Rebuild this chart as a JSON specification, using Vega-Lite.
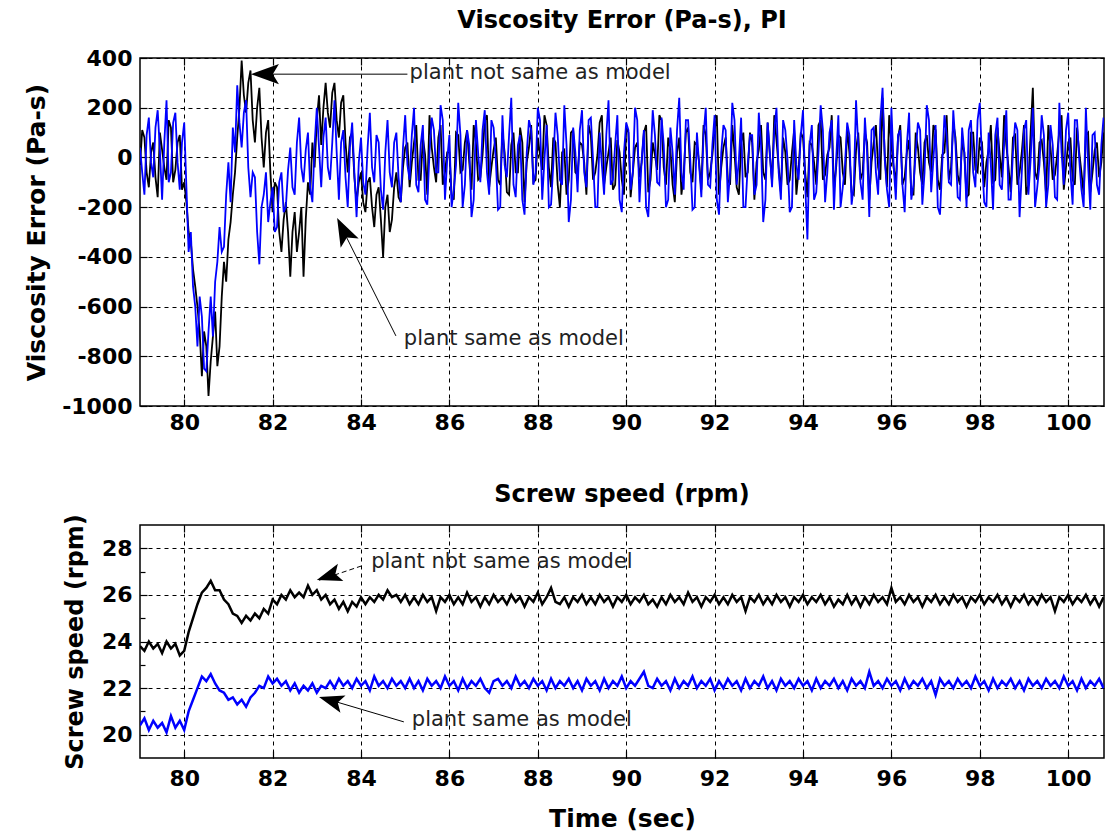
{
"$schema":"https://vega.github.io/schema/vega-lite/v6.json",
"background":"white",
"padding":{"left":23,"top":8,"right":0,"bottom":0},
"config":{
"font":"DejaVu Sans",
"view":{"stroke":"#000","strokeWidth":1.5},
"axis":{"domain":false,"grid":true,"gridColor":"#000","gridDash":[4,4],"gridOpacity":1,"gridWidth":1,"tickColor":"#000","tickSize":-7,"tickWidth":1.2,"labelPadding":17,"labelFont":"DejaVu Sans","labelFontSize":22,"labelFontWeight":"bold","labelColor":"#000","labelFlush":false,"labelOverlap":false,"titleFont":"DejaVu Sans","titleFontSize":25,"titleFontWeight":"bold","titleColor":"#000"},
"title":{"font":"DejaVu Sans","fontSize":24,"fontWeight":"bold","color":"#000"},
"concat":{"spacing":47}
},
"datasets":{
"v":[
{"t":79.0,"k":-30,"b":40},{"t":79.05,"k":110,"b":-60},{"t":79.1,"k":80,"b":-150},{"t":79.15,"k":-60,"b":90},{"t":79.2,"k":-120,"b":160},{"t":79.25,"k":20,"b":-20},{"t":79.3,"k":60,"b":-80},{"t":79.35,"k":-80,"b":120},{"t":79.4,"k":-160,"b":190},{"t":79.45,"k":100,"b":30},
{"t":79.5,"k":30,"b":-170},{"t":79.55,"k":-40,"b":60},{"t":79.6,"k":-90,"b":230},{"t":79.65,"k":150,"b":-100},{"t":79.7,"k":120,"b":-60},{"t":79.75,"k":-100,"b":140},{"t":79.8,"k":-50,"b":180},{"t":79.85,"k":60,"b":-20},{"t":79.9,"k":90,"b":-130},{"t":79.95,"k":-130,"b":60},
{"t":80.0,"k":-100,"b":140},{"t":80.05,"k":-180,"b":-120},{"t":80.1,"k":-300,"b":-380},{"t":80.15,"k":-340,"b":-300},{"t":80.2,"k":-450,"b":-520},{"t":80.25,"k":-520,"b":-600},{"t":80.3,"k":-600,"b":-760},{"t":80.35,"k":-700,"b":-560},{"t":80.4,"k":-880,"b":-640},{"t":80.45,"k":-700,"b":-850},
{"t":80.5,"k":-760,"b":-860},{"t":80.55,"k":-960,"b":-700},{"t":80.6,"k":-820,"b":-560},{"t":80.65,"k":-720,"b":-720},{"t":80.7,"k":-620,"b":-500},{"t":80.75,"k":-840,"b":-420},{"t":80.8,"k":-760,"b":-280},{"t":80.85,"k":-560,"b":-380},{"t":80.9,"k":-420,"b":-360},{"t":80.95,"k":-500,"b":-150},
{"t":81.0,"k":-330,"b":-20},{"t":81.05,"k":-260,"b":-180},{"t":81.1,"k":-150,"b":120},{"t":81.15,"k":-60,"b":20},{"t":81.2,"k":80,"b":290},{"t":81.25,"k":200,"b":140},{"t":81.3,"k":390,"b":40},{"t":81.35,"k":250,"b":180},{"t":81.4,"k":180,"b":230},{"t":81.45,"k":300,"b":-40},
{"t":81.5,"k":350,"b":-160},{"t":81.55,"k":150,"b":-60},{"t":81.6,"k":60,"b":-80},{"t":81.65,"k":200,"b":-300},{"t":81.7,"k":280,"b":-430},{"t":81.75,"k":80,"b":-200},{"t":81.8,"k":-40,"b":-150},{"t":81.85,"k":100,"b":-60},{"t":81.9,"k":150,"b":-260},{"t":81.95,"k":-60,"b":-180},
{"t":82.0,"k":-220,"b":-120},{"t":82.05,"k":-100,"b":-300},{"t":82.1,"k":-120,"b":-280},{"t":82.15,"k":-300,"b":-100},{"t":82.2,"k":-380,"b":-60},{"t":82.25,"k":-250,"b":-220},{"t":82.3,"k":-180,"b":-200},{"t":82.35,"k":-300,"b":-50},{"t":82.4,"k":-480,"b":40},{"t":82.45,"k":-300,"b":-120},
{"t":82.5,"k":-220,"b":-150},{"t":82.55,"k":-380,"b":60},{"t":82.6,"k":-300,"b":160},{"t":82.65,"k":-200,"b":-40},{"t":82.7,"k":-480,"b":-100},{"t":82.75,"k":-250,"b":30},{"t":82.8,"k":-100,"b":100},{"t":82.85,"k":-150,"b":-120},{"t":82.9,"k":60,"b":-180},{"t":82.95,"k":-40,"b":50},
{"t":83.0,"k":150,"b":200},{"t":83.05,"k":250,"b":40},{"t":83.1,"k":50,"b":-120},{"t":83.15,"k":200,"b":80},{"t":83.2,"k":300,"b":160},{"t":83.25,"k":180,"b":-40},{"t":83.3,"k":120,"b":-90},{"t":83.35,"k":260,"b":60},{"t":83.4,"k":300,"b":230},{"t":83.45,"k":150,"b":20},
{"t":83.5,"k":80,"b":-170},{"t":83.55,"k":220,"b":60},{"t":83.6,"k":250,"b":110},{"t":83.65,"k":60,"b":-80},{"t":83.7,"k":-60,"b":-200},{"t":83.75,"k":80,"b":40},{"t":83.8,"k":100,"b":140},{"t":83.85,"k":-80,"b":-60},{"t":83.9,"k":-180,"b":-240},{"t":83.95,"k":-100,"b":-20},
{"t":84.0,"k":-60,"b":80},{"t":84.05,"k":-180,"b":-100},{"t":84.1,"k":-220,"b":-150},{"t":84.15,"k":-100,"b":40},{"t":84.2,"k":-80,"b":180},{"t":84.25,"k":-200,"b":-40},{"t":84.3,"k":-280,"b":-100},{"t":84.35,"k":-150,"b":90},{"t":84.4,"k":-120,"b":60},{"t":84.45,"k":-250,"b":-130},
{"t":84.5,"k":-400,"b":-210},{"t":84.55,"k":-200,"b":20},{"t":84.6,"k":-150,"b":150},{"t":84.65,"k":-300,"b":-60},{"t":84.7,"k":-250,"b":-120},{"t":84.75,"k":-120,"b":60},{"t":84.8,"k":-60,"b":100},{"t":84.85,"k":-160,"b":-80},{"t":84.9,"k":-180,"b":-180},{"t":84.95,"k":-40,"b":40},
{"t":85.0,"k":40,"b":170},{"t":85.05,"k":60,"b":-30},{"t":85.1,"k":-120,"b":-90},{"t":85.15,"k":-20,"b":90},{"t":85.2,"k":60,"b":200},{"t":85.25,"k":130,"b":-110},{"t":85.3,"k":-90,"b":-140},{"t":85.35,"k":-90,"b":50},{"t":85.4,"k":80,"b":130},{"t":85.45,"k":10,"b":-170},
{"t":85.5,"k":-150,"b":-190},{"t":85.55,"k":170,"b":20},{"t":85.6,"k":40,"b":160},{"t":85.65,"k":-40,"b":110},{"t":85.7,"k":-100,"b":-60},{"t":85.75,"k":80,"b":-60},{"t":85.8,"k":130,"b":210},{"t":85.85,"k":-110,"b":150},{"t":85.9,"k":-60,"b":-170},{"t":85.95,"k":20,"b":-10},
{"t":86.0,"k":20,"b":90},{"t":86.05,"k":-150,"b":-200},{"t":86.1,"k":-170,"b":-130},{"t":86.15,"k":100,"b":-30},{"t":86.2,"k":90,"b":220},{"t":86.25,"k":-60,"b":90},{"t":86.3,"k":-50,"b":-200},{"t":86.35,"k":60,"b":-110},{"t":86.4,"k":110,"b":110},{"t":86.45,"k":-20,"b":50},
{"t":86.5,"k":-130,"b":-240},{"t":86.55,"k":130,"b":-170},{"t":86.6,"k":60,"b":150},{"t":86.65,"k":-90,"b":20},{"t":86.7,"k":-80,"b":-100},{"t":86.75,"k":10,"b":110},{"t":86.8,"k":150,"b":190},{"t":86.85,"k":170,"b":-60},{"t":86.9,"k":-120,"b":-150},{"t":86.95,"k":-40,"b":150},
{"t":87.0,"k":30,"b":120},{"t":87.05,"k":80,"b":-10},{"t":87.1,"k":-90,"b":-210},{"t":87.15,"k":-110,"b":-200},{"t":87.2,"k":100,"b":170},{"t":87.25,"k":20,"b":-30},{"t":87.3,"k":-140,"b":-80},{"t":87.35,"k":-150,"b":90},{"t":87.4,"k":50,"b":240},{"t":87.45,"k":100,"b":-110},
{"t":87.5,"k":-60,"b":-160},{"t":87.55,"k":-60,"b":50},{"t":87.6,"k":120,"b":90},{"t":87.65,"k":60,"b":-170},{"t":87.7,"k":-180,"b":-230},{"t":87.75,"k":-20,"b":20},{"t":87.8,"k":40,"b":150},{"t":87.85,"k":130,"b":110},{"t":87.9,"k":-100,"b":-110},{"t":87.95,"k":-90,"b":-60},
{"t":88.0,"k":80,"b":200},{"t":88.05,"k":10,"b":150},{"t":88.1,"k":-50,"b":-170},{"t":88.15,"k":170,"b":-10},{"t":88.2,"k":130,"b":130},{"t":88.25,"k":-40,"b":-200},{"t":88.3,"k":-120,"b":-190},{"t":88.35,"k":80,"b":-30},{"t":88.4,"k":60,"b":180},{"t":88.45,"k":-110,"b":90},
{"t":88.5,"k":-200,"b":-90},{"t":88.55,"k":20,"b":-110},{"t":88.6,"k":30,"b":210},{"t":88.65,"k":-150,"b":50},{"t":88.7,"k":-90,"b":-260},{"t":88.75,"k":100,"b":-170},{"t":88.8,"k":110,"b":120},{"t":88.85,"k":-60,"b":20},{"t":88.9,"k":-70,"b":-140},{"t":88.95,"k":60,"b":110},
{"t":89.0,"k":50,"b":190},{"t":89.05,"k":-20,"b":-60},{"t":89.1,"k":-150,"b":-120},{"t":89.15,"k":130,"b":150},{"t":89.2,"k":90,"b":160},{"t":89.25,"k":-90,"b":-10},{"t":89.3,"k":-60,"b":-200},{"t":89.35,"k":10,"b":-200},{"t":89.4,"k":140,"b":100},{"t":89.45,"k":170,"b":-30},
{"t":89.5,"k":-110,"b":-150},{"t":89.55,"k":-40,"b":90},{"t":89.6,"k":20,"b":230},{"t":89.65,"k":80,"b":-110},{"t":89.7,"k":-130,"b":-90},{"t":89.75,"k":-110,"b":50},{"t":89.8,"k":70,"b":170},{"t":89.85,"k":20,"b":-170},{"t":89.9,"k":-90,"b":-220},{"t":89.95,"k":-150,"b":20},
{"t":90.0,"k":120,"b":140},{"t":90.05,"k":100,"b":110},{"t":90.1,"k":-160,"b":-130},{"t":90.15,"k":-60,"b":-60},{"t":90.2,"k":40,"b":200},{"t":90.25,"k":60,"b":150},{"t":90.3,"k":-80,"b":-180},{"t":90.35,"k":-20,"b":-10},{"t":90.4,"k":100,"b":110},{"t":90.45,"k":130,"b":-200},
{"t":90.5,"k":-140,"b":-240},{"t":90.55,"k":-90,"b":-30},{"t":90.6,"k":60,"b":190},{"t":90.65,"k":10,"b":90},{"t":90.7,"k":-50,"b":-100},{"t":90.75,"k":170,"b":-110},{"t":90.8,"k":150,"b":160},{"t":90.85,"k":-40,"b":50},{"t":90.9,"k":-110,"b":-200},{"t":90.95,"k":80,"b":-170},
{"t":91.0,"k":30,"b":120},{"t":91.05,"k":-110,"b":20},{"t":91.1,"k":-180,"b":-150},{"t":91.15,"k":20,"b":110},{"t":91.2,"k":80,"b":240},{"t":91.25,"k":-150,"b":-60},{"t":91.3,"k":-70,"b":-130},{"t":91.35,"k":100,"b":150},{"t":91.4,"k":120,"b":150},{"t":91.45,"k":-60,"b":-10},
{"t":91.5,"k":-100,"b":-210},{"t":91.55,"k":60,"b":-200},{"t":91.6,"k":50,"b":100},{"t":91.65,"k":-20,"b":-30},{"t":91.7,"k":-130,"b":-160},{"t":91.75,"k":130,"b":90},{"t":91.8,"k":90,"b":200},{"t":91.85,"k":-90,"b":-110},{"t":91.9,"k":-60,"b":-120},{"t":91.95,"k":10,"b":50},
{"t":92.0,"k":110,"b":170},{"t":92.05,"k":170,"b":-170},{"t":92.1,"k":-150,"b":-230},{"t":92.15,"k":-40,"b":20},{"t":92.2,"k":40,"b":130},{"t":92.25,"k":80,"b":110},{"t":92.3,"k":-90,"b":-180},{"t":92.35,"k":-110,"b":-60},{"t":92.4,"k":130,"b":220},{"t":92.45,"k":20,"b":150},
{"t":92.5,"k":-120,"b":-110},{"t":92.55,"k":-150,"b":-10},{"t":92.6,"k":60,"b":160},{"t":92.65,"k":100,"b":-200},{"t":92.7,"k":-80,"b":-200},{"t":92.75,"k":-60,"b":-30},{"t":92.8,"k":100,"b":90},{"t":92.85,"k":60,"b":90},{"t":92.9,"k":-170,"b":-150},{"t":92.95,"k":-20,"b":-110},
{"t":93.0,"k":30,"b":180},{"t":93.05,"k":130,"b":50},{"t":93.1,"k":-60,"b":-260},{"t":93.15,"k":-90,"b":-170},{"t":93.2,"k":140,"b":140},{"t":93.25,"k":10,"b":20},{"t":93.3,"k":-100,"b":-120},{"t":93.35,"k":170,"b":110},{"t":93.4,"k":70,"b":200},{"t":93.45,"k":-40,"b":-60},
{"t":93.5,"k":-140,"b":-170},{"t":93.55,"k":80,"b":150},{"t":93.6,"k":20,"b":110},{"t":93.65,"k":-110,"b":-10},{"t":93.7,"k":-90,"b":-220},{"t":93.75,"k":20,"b":-200},{"t":93.8,"k":110,"b":150},{"t":93.85,"k":-150,"b":-30},{"t":93.9,"k":-50,"b":-90},{"t":93.95,"k":100,"b":90},
{"t":94.0,"k":80,"b":190},{"t":94.05,"k":-60,"b":-110},{"t":94.1,"k":-160,"b":-330},{"t":94.15,"k":60,"b":50},{"t":94.2,"k":50,"b":130},{"t":94.25,"k":-20,"b":-170},{"t":94.3,"k":-110,"b":-140},{"t":94.35,"k":130,"b":20},{"t":94.4,"k":150,"b":210},{"t":94.45,"k":-90,"b":110},
{"t":94.5,"k":-70,"b":-180},{"t":94.55,"k":10,"b":-60},{"t":94.6,"k":40,"b":100},{"t":94.65,"k":170,"b":150},{"t":94.7,"k":-130,"b":-210},{"t":94.75,"k":-40,"b":-10},{"t":94.8,"k":90,"b":170},{"t":94.85,"k":80,"b":-200},{"t":94.9,"k":-60,"b":-120},{"t":94.95,"k":-110,"b":-30},
{"t":95.0,"k":120,"b":140},{"t":95.05,"k":20,"b":90},{"t":95.1,"k":-140,"b":-190},{"t":95.15,"k":-150,"b":-110},{"t":95.2,"k":30,"b":230},{"t":95.25,"k":100,"b":50},{"t":95.3,"k":-90,"b":-100},{"t":95.35,"k":-60,"b":-170},{"t":95.4,"k":100,"b":160},{"t":95.45,"k":60,"b":20},
{"t":95.5,"k":-170,"b":-240},{"t":95.55,"k":-20,"b":110},{"t":95.6,"k":60,"b":120},{"t":95.65,"k":130,"b":-60},{"t":95.7,"k":-40,"b":-150},{"t":95.75,"k":-90,"b":150},{"t":95.8,"k":240,"b":280},{"t":95.85,"k":10,"b":-10},{"t":95.9,"k":-120,"b":-130},{"t":95.95,"k":170,"b":-200},
{"t":96.0,"k":50,"b":200},{"t":96.05,"k":-40,"b":-30},{"t":96.1,"k":-100,"b":-170},{"t":96.15,"k":80,"b":90},{"t":96.2,"k":130,"b":110},{"t":96.25,"k":-110,"b":-110},{"t":96.3,"k":-80,"b":-220},{"t":96.35,"k":20,"b":50},{"t":96.4,"k":70,"b":180},{"t":96.45,"k":-150,"b":-170},
{"t":96.5,"k":-150,"b":-110},{"t":96.55,"k":100,"b":20},{"t":96.6,"k":40,"b":140},{"t":96.65,"k":-60,"b":110},{"t":96.7,"k":-110,"b":-190},{"t":96.75,"k":60,"b":-60},{"t":96.8,"k":90,"b":210},{"t":96.85,"k":-20,"b":150},{"t":96.9,"k":-60,"b":-140},{"t":96.95,"k":130,"b":-10},
{"t":97.0,"k":110,"b":130},{"t":97.05,"k":-90,"b":-200},{"t":97.1,"k":-130,"b":-230},{"t":97.15,"k":10,"b":-30},{"t":97.2,"k":20,"b":170},{"t":97.25,"k":170,"b":90},{"t":97.3,"k":-90,"b":-100},{"t":97.35,"k":-40,"b":-110},{"t":97.4,"k":140,"b":190},{"t":97.45,"k":80,"b":50},
{"t":97.5,"k":-70,"b":-160},{"t":97.55,"k":-110,"b":-170},{"t":97.6,"k":60,"b":120},{"t":97.65,"k":20,"b":20},{"t":97.7,"k":-160,"b":-200},{"t":97.75,"k":-150,"b":110},{"t":97.8,"k":100,"b":150},{"t":97.85,"k":100,"b":-60},{"t":97.9,"k":-50,"b":-120},{"t":97.95,"k":-60,"b":150},
{"t":98.0,"k":80,"b":220},{"t":98.05,"k":60,"b":-10},{"t":98.1,"k":-120,"b":-180},{"t":98.15,"k":-20,"b":-200},{"t":98.2,"k":30,"b":100},{"t":98.25,"k":130,"b":-30},{"t":98.3,"k":-100,"b":-210},{"t":98.35,"k":-90,"b":90},{"t":98.4,"k":120,"b":160},{"t":98.45,"k":10,"b":-110},
{"t":98.5,"k":-80,"b":-130},{"t":98.55,"k":170,"b":50},{"t":98.6,"k":50,"b":190},{"t":98.65,"k":-40,"b":-170},{"t":98.7,"k":-140,"b":-170},{"t":98.75,"k":80,"b":20},{"t":98.8,"k":90,"b":140},{"t":98.85,"k":-110,"b":110},{"t":98.9,"k":-60,"b":-240},{"t":98.95,"k":20,"b":-60},
{"t":99.0,"k":130,"b":110},{"t":99.05,"k":-150,"b":150},{"t":99.1,"k":-110,"b":-150},{"t":99.15,"k":100,"b":-10},{"t":99.2,"k":280,"b":200},{"t":99.25,"k":-60,"b":-200},{"t":99.3,"k":-90,"b":-120},{"t":99.35,"k":60,"b":-30},{"t":99.4,"k":70,"b":170},{"t":99.45,"k":-20,"b":90},
{"t":99.5,"k":-150,"b":-200},{"t":99.55,"k":130,"b":-110},{"t":99.6,"k":40,"b":130},{"t":99.65,"k":-90,"b":50},{"t":99.7,"k":-70,"b":-160},{"t":99.75,"k":10,"b":-170},{"t":99.8,"k":110,"b":220},{"t":99.85,"k":170,"b":20},{"t":99.9,"k":-130,"b":-110},{"t":99.95,"k":-40,"b":110},
{"t":100.0,"k":60,"b":180},{"t":100.05,"k":80,"b":-60},{"t":100.1,"k":-90,"b":-190},{"t":100.15,"k":-110,"b":150},{"t":100.2,"k":120,"b":150},{"t":100.25,"k":20,"b":-10},{"t":100.3,"k":-60,"b":-130},{"t":100.35,"k":-150,"b":-200},{"t":100.4,"k":90,"b":200},{"t":100.45,"k":100,"b":-30},
{"t":100.5,"k":-140,"b":-210},{"t":100.55,"k":-60,"b":90},{"t":100.6,"k":30,"b":100},{"t":100.65,"k":60,"b":-110},{"t":100.7,"k":-80,"b":-150},{"t":100.75,"k":-20,"b":50},{"t":100.8,"k":100,"b":160}
],
"s":[
{"t":79.0,"k":23.8,"b":20.4},{"t":79.1,"k":23.6,"b":20.7},{"t":79.2,"k":24.0,"b":20.2},{"t":79.3,"k":23.7,"b":20.6},{"t":79.4,"k":23.9,"b":20.3},{"t":79.5,"k":23.5,"b":20.5},{"t":79.6,"k":24.0,"b":20.1},{"t":79.7,"k":23.7,"b":20.8},{"t":79.8,"k":23.9,"b":20.3},{"t":79.9,"k":23.4,"b":20.6},
{"t":80.0,"k":23.6,"b":20.2},{"t":80.1,"k":24.4,"b":21.0},{"t":80.2,"k":25.0,"b":21.5},{"t":80.3,"k":25.6,"b":22.0},{"t":80.4,"k":26.1,"b":22.5},{"t":80.5,"k":26.3,"b":22.3},{"t":80.6,"k":26.6,"b":22.6},{"t":80.7,"k":26.2,"b":22.2},{"t":80.8,"k":26.2,"b":21.9},{"t":80.9,"k":25.8,"b":21.8},
{"t":81.0,"k":25.6,"b":21.5},{"t":81.1,"k":25.2,"b":21.6},{"t":81.2,"k":25.1,"b":21.3},{"t":81.3,"k":24.8,"b":21.5},{"t":81.4,"k":25.1,"b":21.2},{"t":81.5,"k":24.9,"b":21.6},{"t":81.6,"k":25.2,"b":21.8},{"t":81.7,"k":25.0,"b":22.1},{"t":81.8,"k":25.4,"b":22.0},{"t":81.9,"k":25.2,"b":22.5},
{"t":82.0,"k":25.8,"b":22.2},{"t":82.1,"k":25.6,"b":22.4},{"t":82.2,"k":26.0,"b":22.1},{"t":82.3,"k":25.8,"b":22.3},{"t":82.4,"k":26.2,"b":21.9},{"t":82.5,"k":25.9,"b":22.2},{"t":82.6,"k":26.1,"b":21.8},{"t":82.7,"k":25.9,"b":22.1},{"t":82.8,"k":26.4,"b":21.9},{"t":82.9,"k":26.0,"b":22.2},
{"t":83.0,"k":26.2,"b":21.8},{"t":83.1,"k":25.8,"b":22.1},{"t":83.2,"k":26.0,"b":22.0},{"t":83.3,"k":25.6,"b":22.3},{"t":83.4,"k":25.8,"b":22.0},{"t":83.5,"k":25.4,"b":22.4},{"t":83.6,"k":25.7,"b":22.1},{"t":83.7,"k":25.3,"b":22.3},{"t":83.8,"k":25.7,"b":22.0},{"t":83.9,"k":25.5,"b":22.4},
{"t":84.0,"k":25.9,"b":22.1},{"t":84.1,"k":25.6,"b":22.3},{"t":84.2,"k":25.9,"b":21.9},{"t":84.3,"k":25.7,"b":22.5},{"t":84.4,"k":26.0,"b":22.1},{"t":84.5,"k":25.8,"b":22.3},{"t":84.6,"k":26.2,"b":22.0},{"t":84.7,"k":25.9,"b":22.4},{"t":84.8,"k":26.0,"b":22.1},{"t":84.9,"k":25.7,"b":22.3},
{"t":85.0,"k":26.0,"b":22.0},{"t":85.1,"k":25.6,"b":22.4},{"t":85.2,"k":25.9,"b":22.0},{"t":85.3,"k":25.6,"b":22.3},{"t":85.4,"k":26.0,"b":21.9},{"t":85.5,"k":25.7,"b":22.4},{"t":85.6,"k":25.9,"b":22.1},{"t":85.7,"k":25.3,"b":22.3},{"t":85.8,"k":25.9,"b":22.0},{"t":85.9,"k":25.7,"b":22.5},
{"t":86.0,"k":26.0,"b":22.1},{"t":86.1,"k":25.6,"b":22.3},{"t":86.2,"k":25.9,"b":21.9},{"t":86.3,"k":25.6,"b":22.4},{"t":86.4,"k":26.1,"b":22.0},{"t":86.5,"k":25.7,"b":22.3},{"t":86.6,"k":25.9,"b":22.1},{"t":86.7,"k":25.5,"b":22.4},{"t":86.8,"k":25.9,"b":22.0},{"t":86.9,"k":25.6,"b":21.8},
{"t":87.0,"k":26.0,"b":22.3},{"t":87.1,"k":25.7,"b":22.4},{"t":87.2,"k":25.9,"b":22.1},{"t":87.3,"k":25.6,"b":22.3},{"t":87.4,"k":26.0,"b":22.0},{"t":87.5,"k":25.7,"b":22.5},{"t":87.6,"k":25.9,"b":22.1},{"t":87.7,"k":25.5,"b":22.3},{"t":87.8,"k":25.9,"b":22.0},{"t":87.9,"k":25.7,"b":22.4},
{"t":88.0,"k":26.1,"b":22.1},{"t":88.1,"k":25.6,"b":22.3},{"t":88.2,"k":25.9,"b":21.9},{"t":88.3,"k":26.3,"b":22.4},{"t":88.4,"k":25.7,"b":22.0},{"t":88.5,"k":25.6,"b":22.3},{"t":88.6,"k":25.9,"b":22.1},{"t":88.7,"k":25.5,"b":22.4},{"t":88.8,"k":25.9,"b":22.0},{"t":88.9,"k":25.7,"b":22.3},
{"t":89.0,"k":26.0,"b":21.9},{"t":89.1,"k":25.6,"b":22.4},{"t":89.2,"k":25.9,"b":22.1},{"t":89.3,"k":25.6,"b":22.3},{"t":89.4,"k":26.0,"b":21.9},{"t":89.5,"k":25.7,"b":22.4},{"t":89.6,"k":25.9,"b":22.0},{"t":89.7,"k":25.5,"b":22.3},{"t":89.8,"k":25.9,"b":22.1},{"t":89.9,"k":25.7,"b":22.5},
{"t":90.0,"k":26.0,"b":22.0},{"t":90.1,"k":25.6,"b":22.3},{"t":90.2,"k":25.9,"b":22.1},{"t":90.3,"k":25.7,"b":22.4},{"t":90.4,"k":26.0,"b":22.7},{"t":90.5,"k":25.6,"b":22.1},{"t":90.6,"k":25.8,"b":22.0},{"t":90.7,"k":25.5,"b":22.4},{"t":90.8,"k":25.9,"b":22.1},{"t":90.9,"k":25.6,"b":22.3},
{"t":91.0,"k":26.0,"b":21.9},{"t":91.1,"k":25.7,"b":22.4},{"t":91.2,"k":25.9,"b":22.0},{"t":91.3,"k":25.6,"b":22.3},{"t":91.4,"k":26.1,"b":22.1},{"t":91.5,"k":25.7,"b":22.5},{"t":91.6,"k":25.9,"b":22.0},{"t":91.7,"k":25.5,"b":22.3},{"t":91.8,"k":25.9,"b":22.1},{"t":91.9,"k":25.7,"b":22.4},
{"t":92.0,"k":26.0,"b":21.9},{"t":92.1,"k":25.6,"b":22.3},{"t":92.2,"k":25.9,"b":22.0},{"t":92.3,"k":25.6,"b":22.4},{"t":92.4,"k":26.0,"b":22.1},{"t":92.5,"k":25.7,"b":22.3},{"t":92.6,"k":25.9,"b":21.9},{"t":92.7,"k":25.3,"b":22.4},{"t":92.8,"k":25.9,"b":22.0},{"t":92.9,"k":25.7,"b":22.3},
{"t":93.0,"k":26.0,"b":22.1},{"t":93.1,"k":25.6,"b":22.5},{"t":93.2,"k":25.9,"b":22.0},{"t":93.3,"k":25.6,"b":22.3},{"t":93.4,"k":26.0,"b":21.9},{"t":93.5,"k":25.7,"b":22.4},{"t":93.6,"k":25.9,"b":22.1},{"t":93.7,"k":25.5,"b":22.3},{"t":93.8,"k":25.9,"b":22.0},{"t":93.9,"k":25.7,"b":22.4},
{"t":94.0,"k":26.0,"b":22.1},{"t":94.1,"k":25.6,"b":22.3},{"t":94.2,"k":25.9,"b":21.9},{"t":94.3,"k":25.7,"b":22.4},{"t":94.4,"k":26.0,"b":22.0},{"t":94.5,"k":25.6,"b":22.3},{"t":94.6,"k":25.9,"b":22.1},{"t":94.7,"k":25.5,"b":22.4},{"t":94.8,"k":25.8,"b":22.0},{"t":94.9,"k":25.6,"b":22.3},
{"t":95.0,"k":26.0,"b":21.9},{"t":95.1,"k":25.6,"b":22.4},{"t":95.2,"k":25.9,"b":22.1},{"t":95.3,"k":25.5,"b":22.3},{"t":95.4,"k":25.9,"b":22.0},{"t":95.5,"k":25.6,"b":22.7},{"t":95.6,"k":26.0,"b":22.1},{"t":95.7,"k":25.7,"b":22.3},{"t":95.8,"k":25.9,"b":22.0},{"t":95.9,"k":25.6,"b":22.4},
{"t":96.0,"k":26.3,"b":22.1},{"t":96.1,"k":25.7,"b":22.3},{"t":96.2,"k":25.9,"b":21.9},{"t":96.3,"k":25.6,"b":22.4},{"t":96.4,"k":26.0,"b":22.0},{"t":96.5,"k":25.7,"b":22.3},{"t":96.6,"k":25.9,"b":22.1},{"t":96.7,"k":25.5,"b":22.4},{"t":96.8,"k":25.9,"b":22.0},{"t":96.9,"k":25.7,"b":22.3},
{"t":97.0,"k":26.0,"b":21.7},{"t":97.1,"k":25.6,"b":22.4},{"t":97.2,"k":25.9,"b":22.1},{"t":97.3,"k":25.6,"b":22.3},{"t":97.4,"k":26.0,"b":22.0},{"t":97.5,"k":25.7,"b":22.4},{"t":97.6,"k":25.9,"b":22.1},{"t":97.7,"k":25.5,"b":22.3},{"t":97.8,"k":25.9,"b":22.0},{"t":97.9,"k":25.7,"b":22.5},
{"t":98.0,"k":26.0,"b":22.1},{"t":98.1,"k":25.6,"b":22.3},{"t":98.2,"k":25.9,"b":21.9},{"t":98.3,"k":25.7,"b":22.4},{"t":98.4,"k":26.0,"b":22.0},{"t":98.5,"k":25.6,"b":22.3},{"t":98.6,"k":25.9,"b":22.1},{"t":98.7,"k":25.5,"b":22.4},{"t":98.8,"k":25.9,"b":22.0},{"t":98.9,"k":25.7,"b":22.3},
{"t":99.0,"k":26.0,"b":21.9},{"t":99.1,"k":25.6,"b":22.4},{"t":99.2,"k":25.9,"b":22.1},{"t":99.3,"k":25.6,"b":22.3},{"t":99.4,"k":26.0,"b":22.0},{"t":99.5,"k":25.7,"b":22.4},{"t":99.6,"k":25.9,"b":22.1},{"t":99.7,"k":25.3,"b":22.3},{"t":99.8,"k":25.9,"b":22.0},{"t":99.9,"k":25.7,"b":22.5},
{"t":100.0,"k":26.0,"b":22.1},{"t":100.1,"k":25.6,"b":22.3},{"t":100.2,"k":25.9,"b":21.9},{"t":100.3,"k":25.7,"b":22.4},{"t":100.4,"k":26.0,"b":22.0},{"t":100.5,"k":25.6,"b":22.3},{"t":100.6,"k":25.9,"b":22.1},{"t":100.7,"k":25.5,"b":22.4},{"t":100.8,"k":25.9,"b":22.0}
]
},
"vconcat":[
{
"width":964,"height":348,
"title":{"text":"Viscosity Error (Pa-s), PI","offset":14},
"resolve":{"axis":{"x":"independent"}},
"layer":[
{"data":{"name":"v"},"mark":{"type":"line","color":"#000000","strokeWidth":1.8,"clip":true},
"encoding":{"x":{"field":"t","type":"quantitative","scale":{"domain":[79,100.81],"nice":false,"zero":false},"axis":{"orient":"bottom","grid":true,"labelPadding":13,"values":[80,82,84,86,88,90,92,94,96,98,100],"title":null}},
"y":{"field":"k","type":"quantitative","scale":{"domain":[-1000,400],"nice":false,"zero":false},"axis":{"grid":true,"labelPadding":15,"values":[-1000,-800,-600,-400,-200,0,200,400],"labelExpr":"'' + datum.value","title":"Viscosity Error (Pa-s)","titlePadding":12}}}},
{"data":{"name":"v"},"mark":{"type":"line","color":"#0000ff","strokeWidth":1.8,"clip":true},
"encoding":{"x":{"field":"t","type":"quantitative","axis":null},"y":{"field":"b","type":"quantitative"}}},
{"data":{"values":[{"x":81.6,"y":335,"x2":85.05,"y2":335},{"x":83.5,"y":-260,"x2":84.79,"y2":-718}]},"mark":{"type":"rule","color":"#000","strokeWidth":1},
"encoding":{"x":{"field":"x","type":"quantitative","axis":null},"y":{"field":"y","type":"quantitative"},"x2":{"field":"x2"},"y2":{"field":"y2"}}},
{"data":{"values":[{"x":81.51,"y":335}]},"mark":{"type":"point","shape":"M0,0L-1,-0.36L-0.78,0L-1,0.36Z","size":3136,"angle":180,"filled":true,"color":"#000","opacity":1,"strokeWidth":0},
"encoding":{"x":{"field":"x","type":"quantitative","axis":null},"y":{"field":"y","type":"quantitative"}}},
{"data":{"values":[{"x":83.46,"y":-244}]},"mark":{"type":"point","shape":"M0,0L-1,-0.36L-0.78,0L-1,0.36Z","size":3136,"angle":243.4,"filled":true,"color":"#000","opacity":1,"strokeWidth":0},
"encoding":{"x":{"field":"x","type":"quantitative","axis":null},"y":{"field":"y","type":"quantitative"}}},
{"data":{"values":[{"x":85.1,"y":340,"label":"plant not same as model"},{"x":84.97,"y":-730,"label":"plant same as model"}]},"mark":{"type":"text","align":"left","baseline":"middle","font":"DejaVu Sans","fontSize":21,"color":"#222"},
"encoding":{"x":{"field":"x","type":"quantitative","axis":{"orient":"top","values":[80,82,84,86,88,90,92,94,96,98,100],"labels":false,"grid":false,"title":null}},"y":{"field":"y","type":"quantitative"},"text":{"field":"label"}}}
]
},
{
"width":964,"height":233,
"title":{"text":"Screw speed (rpm)","offset":7},
"resolve":{"axis":{"x":"independent","y":"independent"}},
"layer":[
{"data":{"name":"s"},"mark":{"type":"line","color":"#000000","strokeWidth":2.5,"clip":true},
"encoding":{"x":{"field":"t","type":"quantitative","scale":{"domain":[79,100.81],"nice":false,"zero":false},"axis":{"orient":"bottom","grid":true,"values":[80,82,84,86,88,90,92,94,96,98,100],"title":"Time (sec)","titlePadding":17}},
"y":{"field":"k","type":"quantitative","scale":{"domain":[19,29],"nice":false,"zero":false},"axis":{"orient":"left","grid":true,"labelPadding":15,"values":[20,22,24,26,28],"title":"Screw speed (rpm)","titleFontSize":24,"titlePadding":14}}}},
{"data":{"name":"s"},"mark":{"type":"line","color":"#0000ff","strokeWidth":2.5,"clip":true},
"encoding":{"x":{"field":"t","type":"quantitative","axis":null},"y":{"field":"b","type":"quantitative","axis":null}}},
{"data":{"values":[{"x":83.05,"y":26.63,"x2":84.07,"y2":27.28}]},"mark":{"type":"rule","color":"#000","strokeWidth":1,"strokeDash":[5,3]},
"encoding":{"x":{"field":"x","type":"quantitative","axis":null},"y":{"field":"y","type":"quantitative","axis":null},"x2":{"field":"x2"},"y2":{"field":"y2"}}},
{"data":{"values":[{"x":83.1,"y":21.6,"x2":84.97,"y2":20.55}]},"mark":{"type":"rule","color":"#000","strokeWidth":1},
"encoding":{"x":{"field":"x","type":"quantitative","axis":null},"y":{"field":"y","type":"quantitative","axis":null},"x2":{"field":"x2"},"y2":{"field":"y2"}}},
{"data":{"values":[{"x":83.0,"y":26.64}]},"mark":{"type":"point","shape":"M0,0L-1,-0.36L-0.78,0L-1,0.36Z","size":2500,"angle":162.3,"filled":true,"color":"#000","opacity":1,"strokeWidth":0},
"encoding":{"x":{"field":"x","type":"quantitative","axis":null},"y":{"field":"y","type":"quantitative","axis":null}}},
{"data":{"values":[{"x":83.05,"y":21.62}]},"mark":{"type":"point","shape":"M0,0L-1,-0.36L-0.78,0L-1,0.36Z","size":2500,"angle":196.4,"filled":true,"color":"#000","opacity":1,"strokeWidth":0},
"encoding":{"x":{"field":"x","type":"quantitative","axis":null},"y":{"field":"y","type":"quantitative","axis":null}}},
{"data":{"values":[{"x":84.23,"y":27.41,"label":"plant nbt same as model"},{"x":85.15,"y":20.63,"label":"plant same as model"}]},"mark":{"type":"text","align":"left","baseline":"middle","font":"DejaVu Sans","fontSize":21,"color":"#222"},
"encoding":{"x":{"field":"x","type":"quantitative","axis":{"orient":"top","values":[80,82,84,86,88,90,92,94,96,98,100],"labels":false,"grid":false,"title":null}},"y":{"field":"y","type":"quantitative","axis":{"orient":"left","values":[21,23,25,27],"labels":false,"grid":false,"title":null,"tickSize":-5}},"text":{"field":"label"}}}
]
}
]
}
